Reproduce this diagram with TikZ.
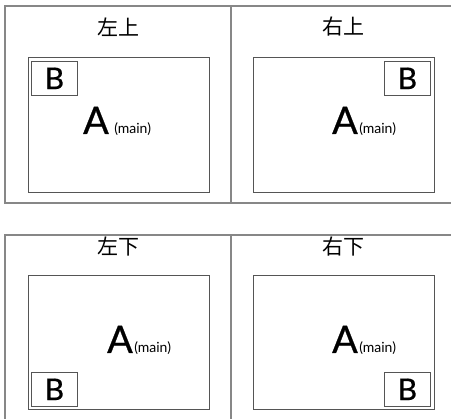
\documentclass[tikz,border=0pt]{standalone}
\usepackage{fontspec}
\setmainfont{Lato}
\newfontfamily\heavy{Lato}[FakeBold=0.7]
\newfontfamily\cjk{Noto Sans CJK SC}
\usetikzlibrary{positioning,calc}
\definecolor{framegray}{RGB}{135,135,135}
\definecolor{boxgray}{RGB}{85,85,85}

\begin{document}
\begin{tikzpicture}[x=1pt, y=-1pt,
  frame/.style={draw=framegray, line width=1.3pt},
  screen/.style={draw=boxgray, line width=1pt, minimum width=181pt, minimum height=135pt, inner sep=0pt, anchor=north west},
  pip/.style={draw=boxgray, line width=0.8pt, minimum width=46pt, minimum height=34pt, inner sep=0pt, anchor=north west, font=\heavy\fontsize{30}{30}\selectfont},
  corner/.style={font=\cjk\fontsize{21}{21}\selectfont},
  big/.style={font=\heavy\fontsize{38}{38}\selectfont, inner sep=0pt, anchor=base},
  tag/.style={font=\fontsize{14}{14}\selectfont, inner sep=0pt}]
\useasboundingbox (0,0) rectangle (451,419);
% outer frames
\draw[frame] (451,6) -- (5,6) -- (5,203) -- (451,203);
\draw[frame] (231,6) -- (231,203);
\draw[frame] (451,235) -- (5,235) -- (5,419);
\draw[frame] (231,235) -- (231,419);
% titles
\node[corner] (tTL) at (118,27) {左上};
\node[corner] (tTR) at (343,27) {右上};
\node[corner] (tBL) at (118,247) {左下};
\node[corner] (tBR) at (343,247) {右下};
% screens
\node[screen] (sTL) at (28,57) {};
\node[screen] (sTR) at (253,57) {};
\node[screen, minimum height=134pt] (sBL) at (28,275) {};
\node[screen, minimum height=134pt] (sBR) at (253,275) {};
% sub pictures
\node[pip] (bTL) at (31,61) {B};
\node[pip] (bTR) at (384,61) {B};
\node[pip] (bBL) at (31,372) {B};
\node[pip] (bBR) at (384,372) {B};
% main labels
\node[big] (aTL) at (96,134) {A};
\node[tag, base right=5pt of aTL] (mTL) {(main)};
\node[big] (aTR) at (345,134) {A};
\node[tag, base right=1pt of aTR] (mTR) {(main)};
\node[big] (aBL) at (120,353) {A};
\node[tag, base right=1pt of aBL] (mBL) {(main)};
\node[big] (aBR) at (345,353) {A};
\node[tag, base right=1pt of aBR] (mBR) {(main)};
\end{tikzpicture}
\end{document}
